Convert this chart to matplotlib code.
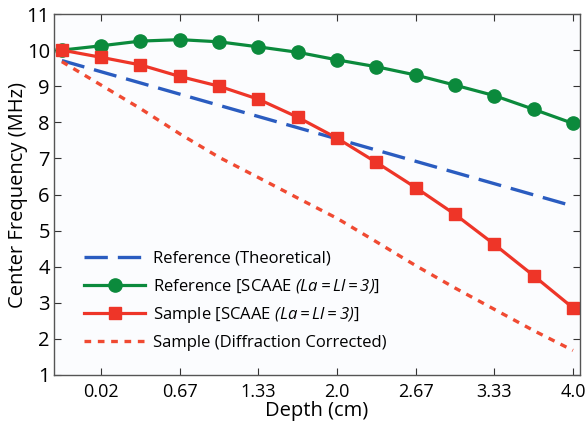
import matplotlib
matplotlib.use('Agg')
import matplotlib.pyplot as plt

plt.rcParams['font.family'] = ['Open Sans', 'DejaVu Sans']
# math text is only used for the italic "(La = Ll = 3)" part of the legend
plt.rcParams['mathtext.fontset'] = 'custom'
plt.rcParams['mathtext.rm'] = 'Open Sans:italic'
plt.rcParams['mathtext.it'] = 'Open Sans:italic'

# depth samples (cm), one every 1/3 cm
depth = [-0.333, 0.0, 0.333, 0.667, 1.0, 1.333, 1.667, 2.0, 2.333, 2.667, 3.0, 3.333, 3.667, 4.0]

ref_theory_x = [-0.333, 4.0]
ref_theory = [9.71, 5.68]
ref_scaae = [10.0, 10.12, 10.25, 10.29, 10.23, 10.09, 9.94, 9.73, 9.54, 9.31, 9.03, 8.74, 8.36, 7.97]
sample_scaae = [10.0, 9.80, 9.59, 9.27, 9.00, 8.64, 8.14, 7.56, 6.89, 6.19, 5.45, 4.62, 3.75, 2.86]
sample_diff = [9.68, 9.03, 8.38, 7.68, 7.03, 6.47, 5.90, 5.34, 4.69, 4.03, 3.41, 2.82, 2.23, 1.68]

xticks = [0.0, 0.667, 1.333, 2.0, 2.667, 3.333, 4.0]
xticklabels = ['0.02', '0.67', '1.33', '2.0', '2.67', '3.33', '4.0']
yticks = list(range(1, 12))

fig = plt.figure(figsize=(5.85, 4.21), dpi=100)
ax = fig.add_axes([0.0923, 0.1093, 0.8992, 0.8574])
ax.set_facecolor('#fbfcfe')

ax.plot(ref_theory_x, ref_theory, color='#2a5cc0', lw=2.4, dashes=(7, 3),
        label='Reference (Theoretical)')
ax.plot(depth, ref_scaae, color='#0b8a3c', lw=2.3, marker='o', ms=9.5,
        label=r'Reference [SCAAE $(La=Ll=3)$]')
ax.plot(depth, sample_scaae, color='#ee3528', lw=2.3, marker='s', ms=8,
        label=r'Sample [SCAAE $(La=Ll=3)$]')
ax.plot(depth, sample_diff, color='#f04a32', lw=2.4, dashes=(2, 2),
        label='Sample (Diffraction Corrected)')

ax.set_xlim(-0.40, 4.06)
ax.set_ylim(1, 11)
ax.set_xticks(xticks)
ax.set_xticklabels(xticklabels)
ax.set_yticks(yticks)
ax.tick_params(direction='in', length=5, width=0.8, top=True, right=True,
               color='#333333')
ax.tick_params(axis='x', labelsize=13, pad=6)
ax.tick_params(axis='y', labelsize=14.5, pad=3)
for s in ax.spines.values():
    s.set_color('#555555')
    s.set_linewidth(1.0)

ax.set_xlabel('Depth (cm)', fontsize=14.5, labelpad=0)
ax.set_ylabel('Center Frequency (MHz)', fontsize=14.5)
ax.yaxis.set_label_coords(-0.05, 0.5)

ax.legend(loc='lower left', bbox_to_anchor=(0.028, 0.025), frameon=False,
          fontsize=12, handlelength=3.7, handletextpad=0.45, labelspacing=0.6)

fig.savefig('out.png', dpi=100)
